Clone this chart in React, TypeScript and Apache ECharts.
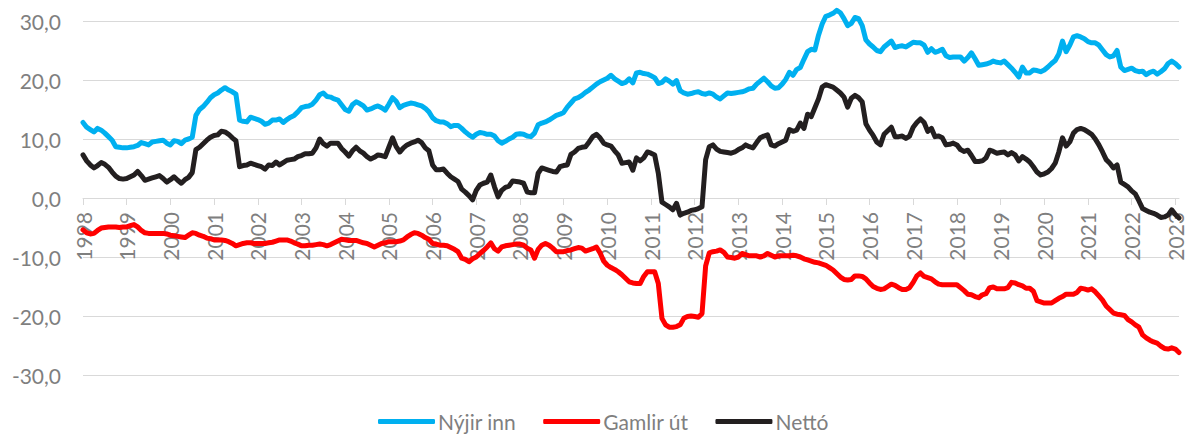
import React, { useEffect, useRef } from "react";
import * as echarts from "echarts";

const startYear = 1998;

const nyjirInn = [
  12.8, 12.0, 11.6, 11.2, 11.8, 11.5, 11.0, 10.4, 9.8, 8.7, 8.6, 8.5,
  8.5, 8.6, 8.7, 8.9, 9.4, 9.2, 9.0, 9.5, 9.6, 9.7, 9.8, 9.3,
  9.0, 9.7, 9.6, 9.2, 9.8, 10.0, 10.3, 14.0, 15.0, 15.5, 16.2, 17.0,
  17.5, 17.8, 18.3, 18.7, 18.3, 18.0, 17.6, 13.2, 13.0, 12.9, 13.7, 13.5,
  13.3, 13.0, 12.5, 12.7, 13.2, 13.2, 13.4, 12.8, 13.3, 13.7, 14.0, 14.6,
  15.3, 15.5, 15.6, 15.9, 16.6, 17.5, 17.8, 17.2, 17.1, 16.8, 16.6, 15.8,
  15.0, 14.7, 15.8, 16.3, 16.0, 15.6, 14.9, 15.1, 15.4, 15.6, 15.3, 14.9,
  15.9, 17.0, 16.4, 15.3, 15.7, 15.9, 16.1, 16.0, 15.8, 15.6, 15.2, 14.6,
  13.6, 13.1, 12.9, 12.9, 12.6, 12.1, 12.3, 12.3, 11.8, 11.2, 10.7, 10.3,
  10.8, 11.1, 11.0, 10.8, 10.8, 10.5, 9.7, 9.3, 9.6, 10.0, 10.3, 10.8,
  10.9, 10.8, 10.5, 10.4, 11.0, 12.4, 12.7, 12.9, 13.2, 13.6, 14.0, 14.2,
  14.5, 15.4, 16.1, 16.8, 17.0, 17.4, 17.9, 18.3, 18.8, 19.3, 19.7, 20.0,
  20.3, 20.8, 20.2, 19.8, 19.4, 19.6, 20.2, 19.5, 21.2, 21.3, 21.1, 21.0,
  20.7, 20.4, 19.4, 19.6, 20.2, 19.8, 19.3, 19.9, 18.2, 17.8, 17.6, 17.7,
  17.9, 18.0, 17.7, 17.6, 17.8, 17.6, 17.1, 16.8, 17.3, 17.8, 17.7, 17.8,
  17.9, 18.0, 18.2, 18.5, 18.6, 19.3, 19.8, 20.3, 19.7, 19.0, 18.6, 18.7,
  19.3, 20.1, 21.3, 20.8, 21.8, 22.1, 23.5, 24.8, 25.2, 25.1, 27.6, 29.5,
  30.8, 31.0, 31.3, 31.8, 31.4, 30.4, 29.2, 29.6, 30.6, 30.4, 29.2, 26.8,
  26.1, 25.6, 25.0, 24.8, 25.6, 26.1, 26.6, 25.5, 25.7, 25.8, 25.6, 26.0,
  26.4, 26.3, 26.3, 25.9, 24.7, 25.3, 24.7, 24.9, 25.2, 24.1, 23.8, 23.9,
  23.9, 23.9, 23.2, 23.8, 24.6, 23.6, 22.5, 22.6, 22.7, 22.9, 23.2, 23.0,
  22.9, 23.2, 22.6, 22.0, 21.3, 20.5, 22.2, 21.2, 21.2, 21.7, 21.6, 21.4,
  21.7, 22.2, 22.8, 23.3, 24.4, 26.6, 24.8, 25.9, 27.3, 27.5, 27.3, 27.0,
  26.5, 26.3, 26.3, 25.9, 25.1, 24.3, 23.9, 24.1, 25.0, 22.2, 21.6, 21.8,
  22.0, 21.6, 21.4, 21.5, 20.9, 21.3, 21.5, 21.0, 21.4, 21.9, 22.8, 23.2,
  22.8, 22.2,
];

const gamlirUt = [
  -5.4, -5.9, -6.1, -6.0, -5.5, -5.1, -5.0, -4.9, -4.9, -4.9, -5.0, -4.9,
  -4.9, -4.7, -4.5, -4.9, -5.5, -5.9, -6.0, -6.0, -6.0, -6.0, -6.0, -6.1,
  -6.3, -6.4, -6.5, -6.6, -6.7, -6.3, -5.9, -6.0, -6.3, -6.5, -6.8, -6.9,
  -7.1, -7.1, -7.1, -7.2, -7.4, -7.7, -8.1, -7.9, -7.7, -7.6, -7.6, -7.7,
  -7.7, -7.7, -7.7, -7.6, -7.5, -7.3, -7.1, -7.1, -7.1, -7.3, -7.6, -7.8,
  -8.1, -8.1, -8.0, -8.0, -7.9, -7.8, -7.9, -8.1, -7.9, -7.6, -7.3, -7.0,
  -7.1, -7.2, -7.2, -7.2, -7.4, -7.6, -7.7, -8.0, -8.3, -8.0, -7.7, -7.6,
  -7.4, -7.4, -7.4, -7.3, -7.1, -6.6, -6.2, -5.9, -6.0, -6.3, -6.7, -7.0,
  -7.7, -7.8, -8.0, -8.0, -8.1, -8.4, -8.7, -9.1, -10.2, -10.4, -10.8, -10.3,
  -10.0, -9.4, -8.9, -8.3, -7.6, -8.6, -9.0, -8.3, -8.1, -8.0, -7.9, -7.8,
  -7.8, -8.0, -8.5, -8.8, -10.2, -8.7, -8.0, -7.7, -8.0, -8.5, -9.1, -9.1,
  -9.1, -8.9, -8.8, -8.6, -8.4, -8.5, -9.0, -8.8, -8.6, -8.3, -9.3, -10.7,
  -11.4, -11.8, -12.1, -12.5, -13.0, -13.6, -14.2, -14.4, -14.5, -14.5, -13.3, -12.5,
  -12.5, -12.5, -14.5, -20.4, -21.5, -21.9, -21.9, -21.8, -21.5, -20.4, -20.1, -20.0,
  -20.1, -20.2, -19.6, -11.5, -9.3, -9.1, -9.0, -8.8, -9.2, -10.0, -10.1, -10.2,
  -10.0, -9.4, -9.6, -9.8, -9.8, -9.8, -10.0, -9.8, -9.4, -9.7, -10.0, -9.8,
  -9.8, -9.8, -9.8, -9.7, -9.8, -10.0, -10.3, -10.5, -10.7, -10.9, -11.0, -11.2,
  -11.4, -11.8, -12.2, -12.8, -13.4, -13.8, -13.9, -13.8, -13.2, -13.2, -13.3, -13.7,
  -14.4, -15.0, -15.3, -15.5, -15.4, -15.0, -14.6, -14.8, -15.2, -15.5, -15.5, -15.2,
  -14.3, -13.2, -12.7, -13.3, -13.5, -13.7, -14.2, -14.6, -14.7, -14.7, -14.7, -14.7,
  -14.7, -15.2, -15.7, -16.3, -16.4, -16.7, -16.9, -16.4, -16.2, -15.2, -15.1, -15.4,
  -15.4, -15.4, -15.2, -14.3, -14.4, -14.7, -14.9, -15.3, -15.3, -15.8, -17.4, -17.6,
  -17.8, -17.8, -17.8, -17.4, -17.0, -16.7, -16.3, -16.3, -16.3, -16.0, -15.3, -15.4,
  -15.6, -15.4, -15.9, -16.6, -17.3, -18.3, -18.9, -19.5, -19.7, -19.8, -19.9, -20.6,
  -21.0, -21.5, -21.9, -23.2, -23.7, -24.1, -24.4, -24.6, -25.1, -25.5, -25.6, -25.4,
  -25.6, -26.2,
];

const netto = [
  7.3, 6.3, 5.6, 5.1, 5.5, 6.0, 5.7, 5.2, 4.4, 3.7, 3.3, 3.2,
  3.3, 3.6, 3.9, 4.5, 3.8, 3.0, 3.2, 3.4, 3.6, 3.8, 3.3, 2.7,
  3.1, 3.6, 3.0, 2.5, 3.1, 3.5, 4.3, 8.2, 8.6, 9.2, 9.8, 10.3,
  10.6, 10.7, 11.3, 11.2, 10.8, 10.2, 9.7, 5.3, 5.5, 5.6, 5.9, 5.7,
  5.5, 5.3, 4.9, 5.6, 5.5, 6.1, 5.6, 6.0, 6.4, 6.5, 6.6, 7.0,
  7.2, 7.5, 7.5, 7.6, 8.5, 10.0, 9.2, 8.8, 9.3, 9.3, 9.3, 8.4,
  7.8, 7.1, 8.0, 8.6, 8.0, 7.6, 7.0, 6.6, 6.9, 7.3, 7.2, 7.0,
  8.6, 10.2, 8.7, 7.8, 8.5, 9.0, 9.3, 9.5, 9.8, 9.4, 8.5, 8.0,
  5.6, 4.8, 4.8, 4.9, 4.2, 3.6, 3.2, 2.8, 1.5, 1.0, 0.4, -0.3,
  1.3, 2.2, 2.5, 2.7, 3.9, 1.9, 0.2, 1.3, 1.8, 2.0, 2.9, 2.8,
  2.7, 2.5, 1.0, 0.9, 0.9, 4.2, 5.1, 4.9, 4.7, 4.5, 4.4, 5.3,
  5.5, 5.6, 7.4, 7.8, 8.4, 8.6, 8.7, 9.5, 10.4, 10.8, 10.2, 9.3,
  9.0, 8.8, 8.0, 7.3, 5.9, 6.0, 6.1, 4.7, 6.8, 6.3, 6.8, 7.8,
  7.6, 7.3, 4.2, -0.7, -1.1, -1.5, -2.0, -0.9, -2.9, -2.6, -2.4, -2.1,
  -2.0, -1.8, -1.5, 6.5, 8.7, 9.0, 8.3, 7.9, 7.8, 7.7, 7.6, 7.8,
  8.2, 8.5, 9.0, 8.7, 8.5, 9.4, 10.2, 10.5, 10.7, 9.0, 8.8, 9.2,
  9.5, 9.8, 11.6, 11.3, 11.5, 12.7, 11.8, 14.2, 13.8, 15.3, 16.8, 18.8,
  19.2, 19.0, 18.8, 18.3, 17.8, 17.1, 15.4, 16.9, 17.4, 17.0, 16.3, 12.6,
  11.5, 10.6, 9.5, 9.0, 10.8, 11.4, 12.0, 10.4, 10.4, 10.5, 10.1, 10.5,
  12.0, 12.8, 13.4, 12.8, 11.3, 11.8, 10.4, 10.5, 10.2, 9.0, 9.1, 9.3,
  9.0, 8.2, 7.9, 8.1, 7.2, 6.2, 6.2, 6.3, 6.8, 8.1, 7.9, 7.6,
  7.7, 7.8, 7.3, 7.7, 7.3, 6.3, 7.0, 6.6, 6.1, 5.3, 4.4, 3.9,
  4.1, 4.4, 5.0, 5.9, 7.8, 10.2, 8.8, 9.5, 11.0, 11.6, 11.8, 11.6,
  11.2, 10.8, 10.0, 9.0, 7.8, 6.5, 5.9, 5.1, 5.6, 2.7, 2.3, 1.9,
  1.2, 0.7, -0.5, -1.8, -2.1, -2.4, -2.6, -2.9, -3.3, -3.2, -2.9, -2.0,
  -2.8, -3.4,
];

const seriesNames = ["Nýjir inn", "Gamlir út", "Nettó"];
const seriesColors = ["#00B0F0", "#FF0000", "#231F20"];

const yTicks = { min: -30, max: 30, interval: 10 };

const months = nyjirInn.map(
  (_, i) => `${startYear + Math.floor(i / 12)}-${String((i % 12) + 1).padStart(2, "0")}`
);

const FONT = "Lato";
const GRAY = "#7f7f7f";
const FS = 21;

export default function App() {
  const ref = useRef<HTMLDivElement>(null);
  useEffect(() => {
    if (!ref.current) return;
    const chart = echarts.init(ref.current, undefined, { renderer: "svg" });
    const values = [nyjirInn, gamlirUt, netto];
    chart.setOption({
      animation: false,
      textStyle: { fontFamily: FONT },
      grid: { left: 83, right: 10, top: 21, bottom: 65, containLabel: false },
      legend: {
        data: seriesNames,
        top: 411,
        left: 373,
        padding: [0, 5, 0, 5],
        icon: "roundRect",
        itemWidth: 57,
        itemHeight: 5,
        itemGap: 27,
        textStyle: { color: GRAY, fontSize: FS, fontFamily: FONT, padding: [0, 0, 0, -2] },
      },
      xAxis: {
        type: "category",
        data: months,
        boundaryGap: false,
        position: "bottom",
        offset: -177,
        axisLine: { onZero: false, lineStyle: { color: "#d9d9d9", width: 1 } },
        axisTick: {
          show: true,
          interval: 11,
          alignWithLabel: true,
          length: 7,
          lineStyle: { color: "#d9d9d9" },
        },
        axisLabel: {
          interval: 11,
          rotate: 90,
          margin: 14,
          color: GRAY,
          fontSize: FS,
          fontFamily: FONT,
          formatter: (v: string) => v.slice(0, 4),
        },
        splitLine: { show: false },
      },
      yAxis: {
        type: "value",
        min: yTicks.min,
        max: yTicks.max,
        interval: yTicks.interval,
        axisLine: { show: false },
        axisTick: { show: false },
        axisLabel: {
          color: GRAY,
          fontSize: FS,
          fontFamily: FONT,
          margin: 22,
          formatter: (v: number) => v.toFixed(1).replace(".", ","),
        },
        splitLine: { lineStyle: { color: "#d9d9d9", width: 1 } },
      },
      series: seriesNames.map((name, i) => ({
        name,
        type: "line",
        data: values[i],
        showSymbol: false,
        symbol: "none",
        clip: false,
        lineStyle: { color: seriesColors[i], width: 5, join: "round", cap: "round" },
        itemStyle: { color: seriesColors[i] },
      })),
    });
    return () => chart.dispose();
  }, []);
  return (
    <div
      ref={ref}
      style={{ position: "fixed", left: 0, top: 0, width: 1189, height: 440, background: "#fff" }}
    />
  );
}
